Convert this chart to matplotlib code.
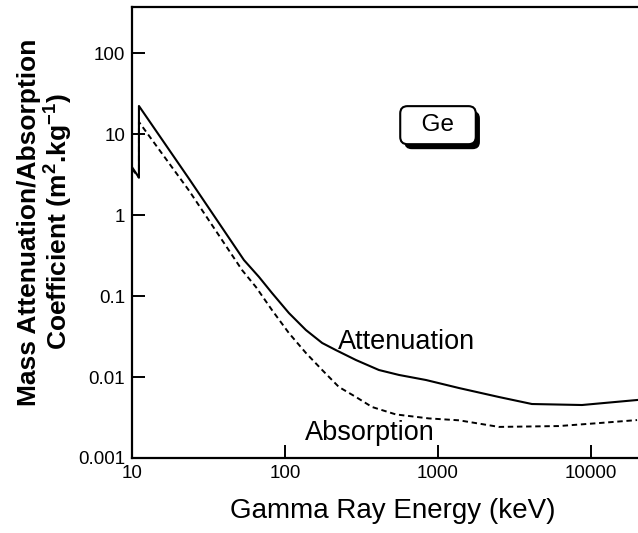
import matplotlib
matplotlib.use("Agg")
import matplotlib.pyplot as plt
import matplotlib.patheffects as pe

plt.rcParams['font.family'] = ['Liberation Sans', 'DejaVu Sans']
plt.rcParams['mathtext.fontset'] = 'custom'
plt.rcParams['mathtext.rm'] = 'Liberation Sans:bold'
plt.rcParams['mathtext.default'] = 'rm'

# Ge mass attenuation / absorption coefficients
# energy in keV, coefficient in m2/kg
atten_E = [10, 11.1, 11.1, 23.6, 53.9, 67.6, 82.2, 106, 137, 175, 215, 291,
           411, 556, 835, 1371, 2504, 4111, 8730, 20000]
atten_mu = [3.9, 2.9, 22.2, 2.8, 0.278, 0.172, 0.109, 0.0617, 0.0380,
            0.0263, 0.0215, 0.0162, 0.0122, 0.0106, 0.00918, 0.00731,
            0.00566, 0.00464, 0.00451, 0.0052]

absorp_E = [10, 11.1, 11.1, 23.6, 52.4, 64.6, 82.2, 106, 137, 175, 225, 291,
            371, 531, 873, 1371, 2504, 6170, 11300, 20000]
absorp_mu = [3.7, 2.9, 14.1, 2.0, 0.209, 0.129, 0.0671, 0.0349, 0.0198,
             0.0122, 0.00753, 0.00566, 0.00426, 0.00345, 0.00308, 0.00292,
             0.00242, 0.00248, 0.0027, 0.00294]

x_ticks = [10, 100, 1000, 10000]
x_ticklabels = ['10', '100', '1000', '10000']
y_ticks = [0.001, 0.01, 0.1, 1, 10, 100]
y_ticklabels = ['0.001', '0.01', '0.1', '1', '10', '100']

fig = plt.figure(figsize=(6.38, 5.33), dpi=100)
ax = fig.add_axes([132 / 638, 75 / 533, 612 / 638, 451 / 533])

ax.plot(atten_E, atten_mu, color='black', lw=1.5, solid_joinstyle='round')
ax.plot(absorp_E, absorp_mu, color='black', lw=1.4, linestyle=(0, (2.8, 1.9)))

ax.set_xscale('log')
ax.set_yscale('log')
ax.set_xlim(10, 1e5)
ax.set_ylim(1e-3, 370)

ax.set_xticks(x_ticks)
ax.set_xticklabels(x_ticklabels)
ax.set_yticks(y_ticks)
ax.set_yticklabels(y_ticklabels)
ax.minorticks_off()
ax.tick_params(direction='in', length=9.5, width=1.4, labelsize=13.5, pad=5)

for sp in ax.spines.values():
    sp.set_linewidth(1.6)

ax.text(0.448, 0.257, 'Attenuation', transform=ax.transAxes, fontsize=19.5,
        ha='center', va='center')
ax.text(0.389, 0.055, 'Absorption', transform=ax.transAxes, fontsize=19.5,
        ha='center', va='center')

# Ge label in a rounded box with a drop shadow
ge = ax.text(0.5, 0.738, '  Ge  ', transform=ax.transAxes, fontsize=17.5,
             ha='center', va='center',
             bbox=dict(boxstyle='round,pad=0.33,rounding_size=0.3', fc='white',
                       ec='black', lw=1.5))
ge.get_bbox_patch().set_path_effects([
    pe.SimplePatchShadow(offset=(3, -3.6), shadow_rgbFace='black', alpha=1),
    pe.Normal()])

fig.text(393 / 638, 1 - 511 / 533, 'Gamma Ray Energy (keV)', fontsize=20,
         ha='center', va='center')
fig.text(46 / 638, 1 - 222 / 533,
         'Mass Attenuation/Absorption\nCoefficient (m$^{2}$.kg$^{-1}$)',
         fontsize=19, fontweight='bold', rotation=90, ha='center',
         va='center', linespacing=1.05)

fig.savefig('out.png', dpi=100)
